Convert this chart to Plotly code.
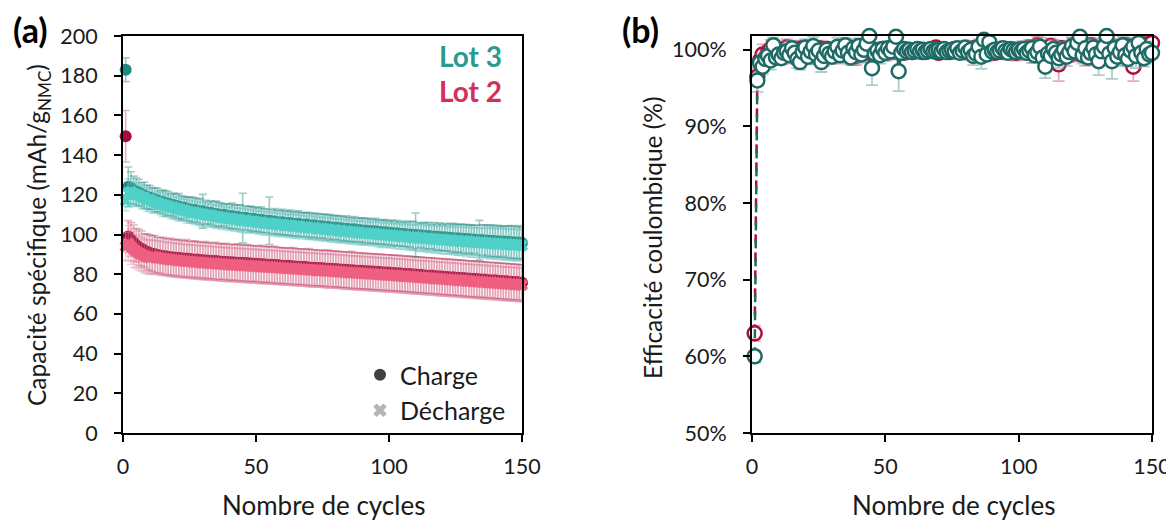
import plotly.graph_objects as go

cycles = list(range(1, 151))

# Lot 3 capacity (mAh/g NMC)
lot3_charge = [
    183.0, 124.0, 123.6, 122.4, 121.5, 121.2, 120.1, 119.8, 118.9, 118.7,
    118.1, 117.4, 117.3, 116.5, 116.4, 115.7, 115.6, 115.0, 114.9, 114.3,
    114.1, 113.5, 113.6, 112.9, 112.7, 112.4, 112.5, 111.9, 111.6, 111.7,
    111.2, 110.9, 111.0, 110.4, 110.3, 110.1, 109.8, 109.9, 109.4, 109.2,
    109.3, 108.8, 108.9, 108.5, 108.3, 108.4, 108.0, 107.8, 107.9, 107.5,
    107.3, 107.4, 107.0, 106.8, 106.9, 106.5, 106.6, 106.2, 106.1, 106.2,
    105.8, 105.7, 105.8, 105.4, 105.3, 105.4, 105.0, 104.9, 105.0, 104.6,
    104.5, 104.6, 104.2, 104.1, 104.2, 103.8, 103.9, 103.5, 103.4, 103.5,
    103.1, 103.2, 102.8, 102.9, 102.6, 102.5, 102.6, 102.2, 102.3, 101.9,
    102.0, 101.7, 101.8, 101.5, 101.6, 101.2, 101.3, 101.0, 101.1, 100.7,
    100.8, 100.5, 100.6, 100.3, 100.2, 100.3, 99.9, 100.0, 99.7, 99.8,
    99.5, 99.6, 99.3, 99.2, 99.3, 98.9, 99.0, 98.7, 98.8, 98.5,
    98.6, 98.3, 98.4, 98.1, 98.0, 98.1, 97.8, 97.9, 97.6, 97.7,
    97.4, 97.5, 97.2, 97.1, 97.2, 96.9, 97.0, 96.7, 96.8, 96.5,
    96.6, 96.4, 96.5, 96.2, 96.3, 96.0, 96.1, 95.9, 96.0, 95.7,
]
lot3_discharge = [
    117.0, 121.0, 121.5, 120.6, 120.0, 119.7, 118.8, 118.6, 117.6, 117.5,
    116.8, 116.3, 116.0, 115.4, 115.1, 114.6, 114.3, 113.8, 113.6, 113.1,
    112.8, 112.3, 112.3, 111.7, 111.4, 111.2, 111.1, 110.7, 110.3, 110.4,
    109.9, 109.7, 109.7, 109.2, 109.0, 108.9, 108.5, 108.6, 108.1, 108.0,
    108.0, 107.6, 107.6, 107.3, 107.0, 107.2, 106.7, 106.6, 106.6, 106.3,
    106.0, 106.2, 105.7, 105.6, 105.6, 105.3, 105.3, 105.0, 104.8, 105.0,
    104.5, 104.5, 104.5, 104.2, 104.0, 104.2, 103.7, 103.7, 103.7, 103.4,
    103.2, 103.4, 102.9, 102.9, 102.9, 102.6, 102.6, 102.3, 102.1, 102.3,
    101.8, 102.0, 101.5, 101.7, 101.3, 101.3, 101.3, 101.0, 101.0, 100.7,
    100.7, 100.5, 100.5, 100.3, 100.3, 100.0, 100.0, 99.8, 99.8, 99.5,
    99.5, 99.3, 99.3, 99.1, 98.9, 99.1, 98.6, 98.8, 98.4, 98.6,
    98.2, 98.4, 98.0, 98.0, 98.0, 97.7, 97.7, 97.5, 97.5, 97.3,
    97.3, 97.1, 97.1, 96.9, 96.7, 96.9, 96.5, 96.7, 96.3, 96.5,
    96.1, 96.3, 95.9, 95.9, 95.9, 95.7, 95.7, 95.5, 95.5, 95.3,
    95.3, 95.2, 95.2, 95.0, 95.0, 94.8, 94.8, 94.7, 94.7, 94.5,
]
lot3_charge_err = [
    6, 10, 8, 7, 7, 6.5, 6, 6.5, 6, 6,
    5.5, 6, 6, 5.5, 6, 6.5, 6, 5.5, 6, 6,
    6.5, 6, 5.5, 6, 6, 6.5, 6, 6, 6.5, 8.5,
    6, 5.5, 6, 6, 6.5, 6, 6, 5.5, 6, 6,
    6.5, 6, 6, 6.5, 12.5, 6, 6, 6.5, 6, 6,
    6, 6.5, 6, 6, 12, 6, 6.5, 6, 6, 6.5,
    6, 6, 6.5, 6, 6, 6.5, 6, 6, 6, 6.5,
    6, 6, 6.5, 6, 6, 6.5, 6, 6.5, 6, 6,
    6.5, 6, 6, 6.5, 6, 6, 6.5, 6, 6, 6.5,
    6, 6.5, 6, 6, 6.5, 6, 6, 6.5, 6, 6,
    6.5, 6, 6.5, 6, 6, 6.5, 6, 6.5, 7, 11,
    6.5, 6, 6.5, 7, 6.5, 6, 7, 6.5, 7, 6.5,
    7, 6.5, 7, 7.5, 7, 7, 7.5, 7, 7.5, 7,
    7.5, 7, 7.5, 10, 7.5, 8, 7.5, 8, 8, 7.5,
    8, 8, 7.5, 8, 8, 8.5, 8, 8, 8.5, 8,
]
lot3_discharge_err = [
    5, 7, 6.5, 6, 6, 5.5, 6, 5.5, 6, 5.5,
    6, 5.5, 5, 5.5, 6, 5.5, 5.5, 6, 5.5, 5.5,
    6, 5.5, 5.5, 6, 5.5, 5.5, 6, 5.5, 6, 6,
    5.5, 6, 5.5, 5.5, 6, 5.5, 6, 5.5, 5.5, 6,
    5.5, 6, 5.5, 6, 6, 5.5, 6, 5.5, 6, 5.5,
    6, 5.5, 6, 5.5, 6, 5.5, 6, 6, 5.5, 6,
    5.5, 6, 5.5, 6, 6, 5.5, 6, 5.5, 6, 6,
    5.5, 6, 6, 5.5, 6, 6, 5.5, 6, 6, 5.5,
    6, 6, 5.5, 6, 6, 6, 5.5, 6, 6, 6,
    6, 5.5, 6, 6, 6, 6.5, 6, 6, 6.5, 6,
    6, 6.5, 6, 6.5, 6, 6.5, 6.5, 6, 6.5, 6.5,
    6.5, 7, 6.5, 6.5, 7, 6.5, 7, 6.5, 7, 7,
    7, 7, 6.5, 7, 7, 7.5, 7, 7, 7.5, 7,
    7.5, 7, 7.5, 7.5, 7, 7.5, 7.5, 8, 7.5, 7.5,
    8, 7.5, 8, 8, 7.5, 8, 8, 8, 7.5, 8,
]

# Lot 2 capacity (mAh/g NMC)
lot2_charge = [
    149.5, 99.0, 97.5, 95.8, 94.6, 93.5, 92.8, 91.9, 91.3, 90.8,
    90.3, 90.0, 89.6, 89.4, 89.1, 89.0, 88.7, 88.6, 88.4, 88.3,
    88.1, 88.0, 87.8, 87.9, 87.6, 87.5, 87.3, 87.4, 87.1, 87.0,
    86.9, 86.9, 86.7, 86.6, 86.6, 86.4, 86.3, 86.3, 86.1, 86.0,
    86.0, 85.9, 85.8, 85.8, 85.6, 85.6, 85.5, 85.4, 85.3, 85.3,
    85.1, 85.0, 85.0, 84.8, 84.8, 84.7, 84.6, 84.6, 84.4, 84.3,
    84.2, 84.2, 84.1, 83.9, 83.9, 83.8, 83.7, 83.7, 83.5, 83.4,
    83.3, 83.3, 83.1, 83.1, 83.0, 82.9, 82.8, 82.8, 82.6, 82.6,
    82.4, 82.4, 82.2, 82.3, 82.0, 82.0, 81.9, 81.8, 81.7, 81.7,
    81.5, 81.5, 81.3, 81.3, 81.1, 81.2, 81.0, 80.9, 80.8, 80.8,
    80.6, 80.6, 80.4, 80.5, 80.2, 80.2, 80.0, 80.1, 79.8, 79.8,
    79.6, 79.7, 79.4, 79.4, 79.2, 79.3, 79.0, 79.0, 78.8, 78.9,
    78.6, 78.6, 78.4, 78.5, 78.2, 78.2, 78.0, 78.1, 77.8, 77.8,
    77.6, 77.7, 77.4, 77.4, 77.2, 77.3, 77.0, 77.0, 76.8, 76.9,
    76.6, 76.6, 76.4, 76.5, 76.2, 76.2, 76.0, 76.1, 75.8, 75.7,
]
lot2_discharge = [
    94.0, 95.5, 94.0, 92.5, 91.5, 90.6, 90.0, 89.3, 88.8, 88.4,
    88.9, 88.6, 88.3, 88.1, 87.9, 87.7, 87.5, 87.3, 87.2, 87.0,
    86.9, 86.7, 86.6, 86.5, 86.4, 86.2, 86.1, 86.0, 85.9, 85.8,
    85.7, 85.6, 85.5, 85.4, 85.3, 85.2, 85.1, 85.0, 84.9, 84.8,
    84.7, 84.7, 84.6, 84.5, 84.4, 84.3, 84.2, 84.2, 84.1, 84.0,
    83.9, 83.8, 83.7, 83.6, 83.6, 83.5, 83.4, 83.3, 83.2, 83.1,
    83.0, 82.9, 82.9, 82.7, 82.7, 82.6, 82.5, 82.4, 82.3, 82.2,
    82.1, 82.1, 81.9, 81.9, 81.8, 81.7, 81.6, 81.6, 81.4, 81.4,
    81.2, 81.2, 81.0, 81.0, 80.8, 80.8, 80.7, 80.6, 80.5, 80.5,
    80.3, 80.3, 80.1, 80.1, 79.9, 79.9, 79.8, 79.7, 79.6, 79.6,
    79.4, 79.4, 79.2, 79.2, 79.0, 79.0, 78.8, 78.8, 78.6, 78.6,
    78.4, 78.4, 78.2, 78.2, 78.0, 78.0, 77.8, 77.8, 77.6, 77.6,
    77.4, 77.4, 77.2, 77.2, 77.0, 77.0, 76.8, 76.8, 76.6, 76.6,
    76.4, 76.4, 76.2, 76.2, 76.0, 76.0, 75.8, 75.8, 75.6, 75.6,
    75.4, 75.4, 75.2, 75.2, 75.0, 75.0, 74.9, 74.8, 74.7, 74.6,
]
lot2_charge_err = [
    13, 8, 8.5, 9, 8.5, 9, 9, 8.5, 9, 9,
    9, 9.5, 9, 9, 9.5, 9, 9, 9.5, 9, 9,
    9.5, 9, 9, 9.5, 9, 9, 9.5, 9, 9, 9,
    9.5, 9, 9, 9, 9.5, 9, 9, 9, 9.5, 9,
    9, 9, 9.5, 9, 9, 9, 9.5, 9, 9, 9,
    9, 9.5, 9, 9, 9, 9, 9.5, 9, 9, 9,
    9, 9, 9, 9.5, 9, 9, 9, 9, 9, 9.5,
    9, 9, 9, 9, 9, 9, 9.5, 9, 9, 9,
    9, 9, 9, 9, 9, 9.5, 9, 9, 9, 9,
    9, 9, 9, 9, 9, 9, 9, 9, 9, 9,
    9, 9, 9, 9, 9, 9, 9, 9, 9, 9,
    9, 9, 9, 9, 9, 9, 9, 9, 9, 9,
    9, 9, 9, 9, 9, 9, 9, 9, 9, 9,
    9, 9, 9, 9, 9, 9, 9, 9, 9, 9,
    9, 9, 9, 9, 9, 9, 9, 9, 9, 9,
]
lot2_discharge_err = [
    7, 9, 9, 9, 8.5, 8.5, 8.5, 8.5, 8.5, 8.5,
    8.5, 8.5, 8.5, 8.5, 8.5, 8.5, 8.5, 8.5, 8.5, 8.5,
    8.5, 8.5, 8.5, 8.5, 8.5, 8.5, 8.5, 8.5, 8.5, 8.5,
    8.5, 8.5, 8.5, 8.5, 8.5, 8.5, 8.5, 8.5, 8.5, 8.5,
    8.5, 8.5, 8.5, 8.5, 8.5, 8.5, 8.5, 8.5, 8.5, 8.5,
    8.5, 8.5, 8.5, 8.5, 8.5, 8.5, 8.5, 8.5, 8.5, 8.5,
    8.5, 8.5, 8.5, 8.5, 8.5, 8.5, 8.5, 8.5, 8.5, 8.5,
    8.5, 8.5, 8.5, 8.5, 8.5, 8.5, 8.5, 8.5, 8.5, 8.5,
    8.5, 8.5, 8.5, 8.5, 8.5, 8.5, 8.5, 8.5, 8.5, 8.5,
    8.5, 8.5, 8.5, 8.5, 8.5, 8.5, 8.5, 8.5, 8.5, 8.5,
    8.5, 8.5, 8.5, 8.5, 8.5, 8.5, 8.5, 8.5, 8.5, 8.5,
    8.5, 8.5, 8.5, 8.5, 8.5, 8.5, 8.5, 8.5, 8.5, 8.5,
    8.5, 8.5, 8.5, 8.5, 8.5, 8.5, 8.5, 8.5, 8.5, 8.5,
    8.5, 8.5, 8.5, 8.5, 8.5, 8.5, 8.5, 8.5, 8.5, 8.5,
    8.5, 8.5, 8.5, 8.5, 8.5, 8.5, 8.5, 8.5, 8.5, 8.5,
]

# coulombic efficiency (%)
lot3_ce = [
    60.0, 96.0, 98.3, 97.8, 98.8, 99.2, 98.6, 100.6, 99.0, 99.4,
    98.9, 99.6, 99.8, 99.3, 100.2, 99.6, 98.8, 98.4, 99.7, 100.3,
    99.1, 99.8, 100.5, 99.4, 99.9, 98.4, 99.2, 100.0, 99.5, 99.1,
    99.8, 100.4, 99.3, 99.9, 100.6, 99.6, 99.0, 100.2, 99.7, 100.5,
    99.4, 100.0, 100.8, 101.8, 97.6, 99.5, 99.9, 99.3, 100.1, 99.6,
    100.2, 99.8, 100.4, 101.7, 97.2, 99.6, 100.1, 99.8, 100.0, 99.7,
    99.9, 100.1, 99.8, 100.0, 99.7, 99.9, 100.1, 99.8, 99.9, 100.0,
    99.8, 100.1, 99.7, 99.9, 100.0, 99.8, 100.2, 99.6, 99.9, 100.3,
    99.7, 100.0, 99.2, 99.5, 100.4, 99.1, 101.3, 99.4, 101.0, 99.8,
    100.0, 99.7, 99.9, 100.2, 99.8, 99.6, 100.1, 99.9, 99.7, 100.0,
    99.8, 100.1, 99.6, 99.9, 100.2, 99.3, 99.7, 100.4, 99.0, 97.8,
    99.5, 99.2, 100.1, 99.6, 98.9, 99.4, 100.0, 99.1, 99.7, 100.5,
    99.8, 100.9, 101.7, 99.3, 100.2, 99.0, 99.6, 100.3, 99.4, 98.5,
    99.8, 100.4, 101.8, 99.5, 98.5, 100.2, 99.1, 99.7, 100.6, 99.3,
    98.8, 99.9, 100.4, 99.2, 100.9, 99.6, 98.9, 100.1, 99.4, 99.6,
]
lot2_ce = [
    63.0, 96.5, 98.6, 99.4, 98.9, 99.6, 100.1, 99.5, 99.8, 100.0,
    99.6, 99.9, 100.3, 99.7, 99.4, 100.1, 99.8, 99.5, 100.2, 99.9,
    99.6, 100.0, 99.8, 99.3, 100.2, 99.7, 99.5, 100.1, 99.9, 99.4,
    100.0, 99.8, 99.6, 100.3, 99.9, 99.5, 100.1, 99.7, 99.2, 100.0,
    99.8, 99.6, 100.2, 99.9, 99.5, 100.0, 99.7, 99.8, 100.1, 99.6,
    99.9, 100.0, 99.7, 99.8, 100.1, 99.9, 99.6, 100.0, 99.8, 99.7,
    99.9, 99.8, 100.0, 99.7, 99.9, 99.8, 100.0, 99.9, 100.3, 99.6,
    99.8, 100.0, 99.9, 99.7, 99.8, 100.1, 99.9, 99.8, 100.0, 99.7,
    99.9, 99.6, 100.2, 99.4, 99.7, 100.0, 99.5, 99.9, 100.1, 99.8,
    99.6, 100.0, 99.9, 99.7, 100.1, 99.8, 99.9, 100.0, 99.6, 99.8,
    100.1, 99.7, 99.9, 100.3, 99.5, 99.8, 100.6, 99.4, 100.0, 99.3,
    99.8, 100.5, 99.1, 99.9, 98.1, 100.2, 99.6, 100.0, 99.4, 100.3,
    99.7, 100.1, 99.5, 100.4, 99.2, 99.9, 100.6, 99.6, 100.0, 99.3,
    100.2, 99.5, 99.9, 100.5, 99.1, 100.3, 99.7, 100.0, 99.4, 100.6,
    99.5, 100.2, 97.8, 99.8, 100.4, 99.2, 100.7, 99.6, 100.2, 100.9,
]
lot3_ce_err = [
    0.8, 1.5, 1.2, 1.0, 1.0, 0.8, 1.2, 1.0, 0.9, 1.1,
    0.8, 1.0, 1.3, 0.9, 1.0, 0.8, 1.2, 1.0, 0.9, 1.1,
    1.0, 0.8, 1.2, 1.0, 0.9, 1.3, 1.0, 0.8, 1.1, 0.9,
    1.0, 1.2, 0.8, 1.0, 0.9, 1.1, 1.0, 0.8, 1.2, 1.0,
    1.1, 0.9, 1.0, 1.2, 2.2, 1.0, 0.9, 1.1, 0.8, 1.0,
    0.9, 1.0, 0.8, 1.1, 2.6, 0.9, 0.7, 0.8, 0.6, 0.7,
    0.6, 0.5, 0.6, 0.5, 0.6, 0.5, 0.6, 0.5, 0.6, 0.5,
    0.6, 0.5, 0.6, 0.5, 0.6, 0.7, 0.6, 0.8, 0.7, 0.9,
    0.8, 1.0, 1.2, 0.9, 1.0, 1.6, 1.1, 0.9, 1.0, 0.8,
    0.7, 0.8, 0.7, 0.6, 0.7, 0.8, 0.7, 0.8, 0.9, 0.8,
    0.9, 1.0, 0.9, 1.0, 1.1, 1.0, 0.9, 1.2, 1.0, 1.5,
    1.1, 1.0, 1.2, 1.0, 1.3, 1.1, 1.0, 1.2, 0.9, 1.1,
    1.0, 1.2, 1.0, 1.1, 1.3, 1.0, 1.2, 1.1, 1.4, 1.8,
    1.1, 1.2, 1.0, 1.3, 2.3, 1.1, 1.2, 1.0, 1.1, 1.3,
    1.0, 1.2, 1.1, 1.6, 1.0, 1.2, 1.1, 1.0, 1.2, 1.0,
]
lot2_ce_err = [
    1.0, 1.2, 1.0, 1.3, 1.1, 1.0, 1.2, 0.9, 1.0, 1.1,
    0.8, 1.0, 1.1, 0.9, 1.2, 1.0, 0.9, 1.1, 1.0, 0.8,
    1.3, 1.0, 0.9, 1.2, 1.0, 1.1, 1.6, 0.9, 1.0, 1.1,
    1.0, 0.9, 1.4, 1.0, 0.8, 1.1, 1.0, 1.7, 1.2, 0.9,
    1.0, 1.1, 0.9, 1.0, 1.2, 0.9, 1.0, 0.8, 0.9, 1.0,
    0.8, 0.9, 0.7, 0.8, 0.7, 0.6, 0.7, 0.6, 0.5, 0.6,
    0.5, 0.6, 0.5, 0.6, 0.5, 0.6, 0.5, 0.6, 0.5, 0.6,
    0.5, 0.6, 0.5, 0.6, 0.7, 0.6, 0.7, 0.6, 0.8, 0.7,
    0.8, 0.9, 0.8, 1.0, 0.9, 0.8, 1.0, 0.9, 0.8, 0.9,
    0.8, 0.7, 0.8, 0.7, 0.8, 0.9, 0.8, 0.9, 1.0, 0.9,
    1.0, 0.9, 1.1, 1.0, 1.2, 1.0, 1.1, 1.0, 1.2, 1.3,
    1.1, 1.0, 1.3, 1.1, 2.2, 1.0, 1.2, 1.1, 1.0, 1.3,
    1.1, 1.2, 1.0, 1.1, 1.3, 1.2, 1.0, 1.1, 1.2, 1.0,
    1.2, 1.1, 1.3, 1.0, 1.2, 1.1, 1.0, 1.3, 1.2, 1.0,
    1.1, 1.2, 1.9, 1.0, 1.1, 1.3, 1.0, 1.2, 1.1, 1.0,
]
ce_ticks = [50, 60, 70, 80, 90, 100]

TEAL_DARK = "#1f8a80"
TEAL_LIGHT = "#4fd1c9"
RED_DARK = "#a50c3a"
PINK = "#ef5f80"
FONT = "Lato, 'Open Sans', sans-serif"
TXT = "#1a1a1a"

# the page puts the figure 8px in from the corner; positions below are
# page pixels, converted to paper fractions of the figure
W, H, PAD = 1174, 520, 8


def px(x):
    return (x - PAD) / W


def py(y):
    return 1 - (y - PAD) / H


fig = go.Figure()

# (a) capacity: Lot 2 under Lot 3, charge then discharge
series_a = [
    (lot2_charge, lot2_charge_err, "circle", 12, RED_DARK, "rgba(180,40,80,0.35)"),
    (lot2_discharge, lot2_discharge_err, "x", 11, PINK, "rgba(225,140,165,0.45)"),
    (lot3_charge, lot3_charge_err, "circle", 12, TEAL_DARK, "rgba(40,140,130,0.45)"),
    (lot3_discharge, lot3_discharge_err, "x", 11, TEAL_LIGHT, "rgba(110,200,195,0.45)"),
]
for vals, errs, sym, size, col, ecol in series_a:
    fig.add_trace(go.Scatter(
        x=cycles, y=vals, mode="markers", showlegend=False,
        marker=dict(symbol=sym, size=size, color=col, line=dict(width=0)),
        error_y=dict(type="data", array=errs, color=ecol, thickness=1.6, width=4),
        cliponaxis=False, xaxis="x", yaxis="y",
    ))

# legend symbols
fig.add_trace(go.Scatter(x=[None], y=[None], mode="markers", name="Charge",
                         marker=dict(symbol="circle", size=14, color="#404040"),
                         xaxis="x", yaxis="y"))
fig.add_trace(go.Scatter(x=[None], y=[None], mode="markers", name="Décharge",
                         marker=dict(symbol="x", size=13, color="#b5b5b5"),
                         xaxis="x", yaxis="y"))

# (b) coulombic efficiency
for vals, errs, col, ecol in [
    (lot2_ce, lot2_ce_err, "#b00d3b", "rgba(200,90,120,0.5)"),
    (lot3_ce, lot3_ce_err, "#1e6b66", "rgba(110,160,160,0.55)"),
]:
    fig.add_trace(go.Scatter(
        x=cycles, y=vals, mode="lines+markers", showlegend=False,
        line=dict(color=col, width=2.5, dash="dash"),
        marker=dict(symbol="circle", size=14, color="white", line=dict(color=col, width=2.5)),
        error_y=dict(type="data", array=errs, color=ecol, thickness=1.8, width=6),
        cliponaxis=False, xaxis="x2", yaxis="y2",
    ))

axis_common = dict(showline=True, linecolor="black", linewidth=2, mirror=True,
                   ticks="outside", ticklen=7, tickwidth=2, tickcolor="black",
                   showgrid=False, zeroline=False, automargin=False,
                   tickfont=dict(family=FONT, size=21.5, color=TXT))

ydom = [py(433), py(36)]
fig.update_layout(
    width=W, height=H,
    margin=dict(l=0, r=0, t=0, b=0),
    paper_bgcolor="white", plot_bgcolor="white",
    font=dict(family=FONT, size=21, color=TXT),
    xaxis=dict(domain=[px(123), px(522)], range=[0, 150], dtick=50,
               anchor="y", ticklabelstandoff=6, **axis_common),
    yaxis=dict(domain=ydom, range=[0, 200], dtick=20,
               anchor="x", ticklabelstandoff=12, **axis_common),
    xaxis2=dict(domain=[px(752), px(1152)], range=[0, 150], dtick=50,
                anchor="y2", ticklabelstandoff=6, **axis_common),
    yaxis2=dict(domain=ydom, range=[50, 101.8],
                tickvals=ce_ticks, ticktext=[f"{v}%" for v in ce_ticks],
                anchor="x2", ticklabelstandoff=12, **axis_common),
    legend=dict(x=px(360), y=py(352), xanchor="left", yanchor="top",
                bgcolor="rgba(0,0,0,0)", font=dict(family=FONT, size=25, color=TXT),
                itemsizing="constant", tracegroupgap=0),
    showlegend=True,
)

annots = [
    dict(text="<b>(a)</b>", x=30, y=30, size=34, color="black", angle=0),
    dict(text="<b>(b)</b>", x=640, y=30, size=34, color="black", angle=0),
    dict(text="<b>Lot 3</b>", x=471, y=56, size=28, color="#2a9a90", angle=0),
    dict(text="<b>Lot 2</b>", x=471, y=91, size=28, color="#d42e5a", angle=0),
    dict(text="Nombre de cycles", x=323, y=505, size=26, color=TXT, angle=0),
    dict(text="Nombre de cycles", x=953, y=505, size=26, color=TXT, angle=0),
    dict(text="Capacité spécifique (mAh/g<sub>NMC</sub>)", x=38, y=235, size=24.5, color=TXT, angle=-90),
    dict(text="Efficacité coulombique (%)", x=652, y=238, size=24.5, color=TXT, angle=-90),
]
for a in annots:
    fig.add_annotation(text=a["text"], x=px(a["x"]), y=py(a["y"]),
                       xref="paper", yref="paper", showarrow=False,
                       textangle=a["angle"], xanchor="center", yanchor="middle",
                       font=dict(family=FONT, size=a["size"], color=a["color"]))

fig.write_html("out.html")
